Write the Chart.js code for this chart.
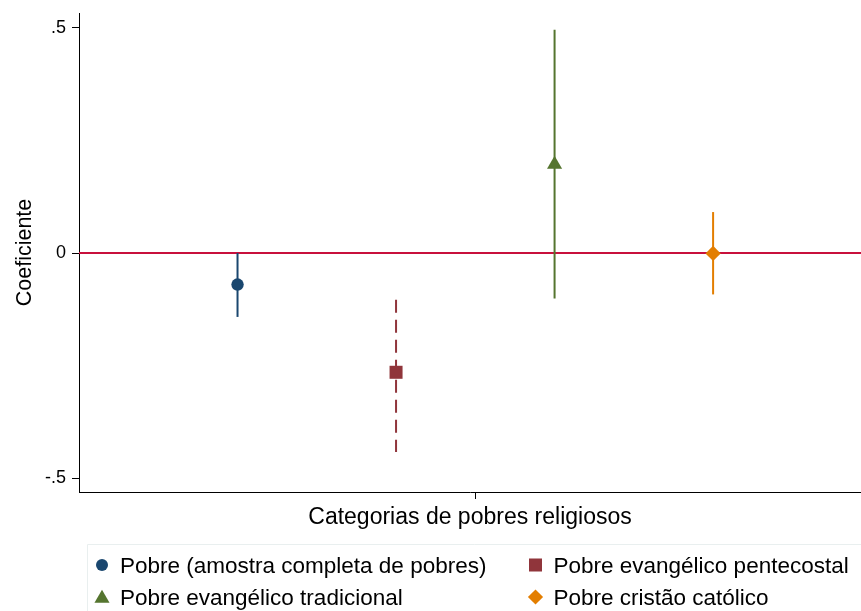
<!DOCTYPE html>
<html>
<head>
<meta charset="utf-8">
<script src="https://cdn.jsdelivr.net/npm/chart.js@4/dist/chart.umd.min.js"></script>
<style>
  html, body { margin: 0; padding: 0; background: #fff; }
  #coef { display: block; }
</style>
</head>
<body>
<canvas id="coef" width="861" height="611"></canvas>
<script>
// ---------- data ----------
const categories = [
  "Pobre (amostra completa de pobres)",
  "Pobre evangélico pentecostal",
  "Pobre evangélico tradicional",
  "Pobre cristão católico",
];
const positions = [1, 2, 3, 4];
const coef  = [-0.070, -0.265, 0.197, -0.001];
const lower = [-0.142, -0.442, -0.101, -0.092];
const upper = [ 0.000, -0.104,  0.496,  0.091];
const yTicks = [-0.5, 0, 0.5];
const yTickLabels = ["-.5", "0", ".5"];

// ---------- styles ----------
const FONT = "'Liberation Sans', Arial, Helvetica, sans-serif";
const colors  = ["#1a476f", "#90353b", "#55752f", "#e37e00"];
const shapes  = ["circle", "rect", "triangle", "rectRot"];
const radii   = [6.2, 9.2, 8.7, 7.6];
const dashes  = [[], [13, 7], [], []];
const ZERO_COLOR = "#c8103c";

const datasets = categories.map((name, i) => ({
  label: name,
  data: [{ x: positions[i], y: coef[i] }],
  pointStyle: shapes[i],
  pointRadius: radii[i],
  pointHoverRadius: radii[i],
  pointBackgroundColor: colors[i],
  pointBorderColor: colors[i],
  pointBorderWidth: 0,
  showLine: false,
}));

// no label overflow padding: the plot box is fixed
const noPad = (s) => {
  s.paddingLeft = s.paddingRight = s.paddingTop = s.paddingBottom = 0;
};

// zero reference line + confidence intervals, under the markers
const ciPlugin = {
  id: "ciLines",
  beforeDatasetsDraw(chart) {
    const { ctx, chartArea: a, scales: { x, y } } = chart;
    ctx.save();
    ctx.lineCap = "butt";

    ctx.strokeStyle = ZERO_COLOR;
    ctx.lineWidth = 2;
    const y0 = y.getPixelForValue(0);
    ctx.beginPath();
    ctx.moveTo(a.left, y0);
    ctx.lineTo(a.right, y0);
    ctx.stroke();

    positions.forEach((p, i) => {
      const px = x.getPixelForValue(p);
      ctx.strokeStyle = colors[i];
      ctx.lineWidth = 2;
      ctx.setLineDash(dashes[i]);
      ctx.beginPath();
      ctx.moveTo(px, y.getPixelForValue(upper[i]));
      ctx.lineTo(px, y.getPixelForValue(lower[i]));
      ctx.stroke();
    });
    ctx.restore();
  },
};

// two-column legend in a light box below the plot
const legendPlugin = {
  id: "boxLegend",
  afterDraw(chart) {
    const { ctx, width, height } = chart;
    ctx.save();
    ctx.strokeStyle = "#e9efef";
    ctx.lineWidth = 1;
    ctx.beginPath();
    ctx.moveTo(87.5, height);
    ctx.lineTo(87.5, 544.5);
    ctx.lineTo(width, 544.5);
    ctx.stroke();

    const cols = [102, 535.5];
    const rows = [565, 597];
    const legendRadii = [6, 9.2, 8.7, 7.6];
    ctx.font = `22.5px ${FONT}`;
    ctx.textBaseline = "alphabetic";
    ctx.textAlign = "left";
    categories.forEach((name, i) => {
      const cx = cols[i % 2];
      const cy = rows[Math.floor(i / 2)];
      ctx.fillStyle = colors[i];
      Chart.helpers.drawPoint(ctx, {
        pointStyle: shapes[i],
        radius: legendRadii[i],
        rotation: 0,
        borderWidth: 0,
      }, cx, cy + (shapes[i] === "triangle" ? 1.5 : 0));
      ctx.fillStyle = "#000";
      ctx.fillText(name, cx + 18, cy + 8);
    });
    ctx.restore();
  },
};

new Chart(document.getElementById("coef"), {
  type: "scatter",
  data: { datasets },
  plugins: [ciPlugin, legendPlugin],
  options: {
    responsive: false,
    animation: false,
    devicePixelRatio: 1,
    layout: { autoPadding: false, padding: { top: 13, right: 0, bottom: 0, left: 0 } },
    plugins: {
      legend: { display: false },
      tooltip: { enabled: false },
    },
    scales: {
      x: {
        type: "linear",
        min: 0,
        max: 4.933,
        afterFit: (s) => { s.height = 119; noPad(s); },
        afterBuildTicks: (s) => { s.ticks = [{ value: 2.5 }]; },
        ticks: { display: false },
        grid: { drawOnChartArea: false, drawTicks: true, tickLength: 7, color: "#000" },
        border: { display: true, color: "#000", width: 1 },
        title: {
          display: true,
          text: "Categorias de pobres religiosos",
          color: "#000",
          font: { family: FONT, size: 23 },
          padding: { top: 0, bottom: 80 },
        },
      },
      y: {
        type: "linear",
        min: -0.531,
        max: 0.5333,
        afterFit: (s) => { s.width = 79; noPad(s); },
        afterBuildTicks: (s) => { s.ticks = yTicks.map((v) => ({ value: v })); },
        ticks: {
          color: "#000",
          font: { family: FONT, size: 18 },
          padding: 6,
          callback: (v) => yTickLabels[yTicks.indexOf(v)],
        },
        grid: { drawOnChartArea: false, drawTicks: true, tickLength: 7, color: "#000" },
        border: { display: true, color: "#000", width: 1 },
        title: {
          display: true,
          text: "Coeficiente",
          color: "#000",
          font: { family: FONT, size: 21.5 },
          padding: { top: 12.6, bottom: 0 },
        },
      },
    },
  },
});
</script>
</body>
</html>
